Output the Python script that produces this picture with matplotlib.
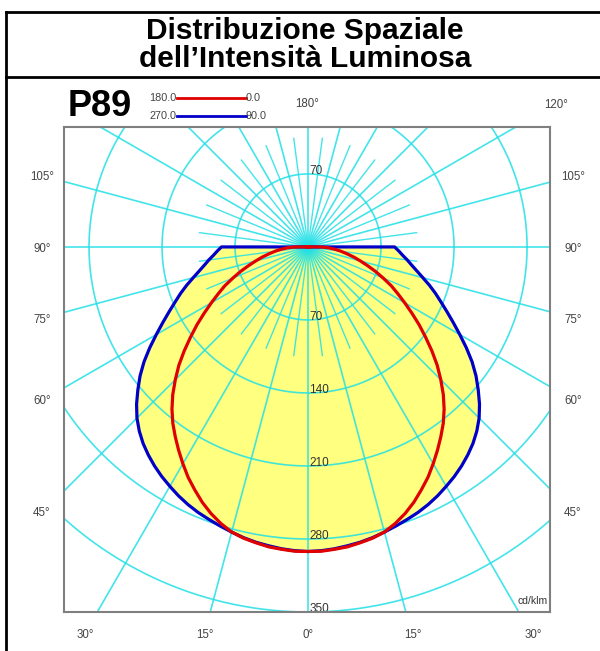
import numpy as np
import matplotlib
matplotlib.use("Agg")
import matplotlib.pyplot as plt
from matplotlib.lines import Line2D

plt.rcParams['font.family'] = ['Liberation Sans', 'DejaVu Sans']

# ---------------- data (cd/klm), gamma in degrees ----------------
gamma_deg = [0, 2.5, 5, 7.5, 10, 12.5, 15, 17.5, 20, 22.5, 25, 27.5, 30, 32.5, 35, 37.5,
             40, 42.5, 45, 47.5, 50, 52.5, 55, 57.5, 60, 62.5, 65, 67.5, 70, 72.5, 75,
             77.5, 80, 82.5, 85, 87.5, 90, 92.5, 180]
c0_180 = [292, 292, 291, 290, 288, 286, 283, 278, 272, 265, 257, 249, 240, 231, 222, 213,
          203, 192, 180, 168, 155, 142, 130, 118, 107, 97, 88, 78, 69, 60, 52,
          45, 38, 32, 26, 20, 13, 0, 0]
c90_270 = [292, 291.5, 290.5, 289, 287.5, 285.5, 283, 280.5, 278, 275.5, 272.5, 269, 265, 261, 256.5, 251.5,
           246, 239.5, 232, 223, 213, 203, 192, 180, 168, 157, 147, 138, 130, 122, 114,
           107, 101, 96, 91, 87, 83, 0, 0]

radial_ticks = [70, 140, 210, 280, 350]
side_labels = ["105°", "90°", "75°", "60°", "45°"]
bottom_labels = ["30°", "15°", "0°", "15°", "30°"]
top_labels = ["180°", "120°"]
legend_pairs = [("180.0", "0.0"), ("270.0", "90.0")]
title = "Distribuzione Spaziale\ndell\u2019Intensità Luminosa"
product = "P89"
unit = "cd/klm"

W, H = 600, 651
fig = plt.figure(figsize=(W / 100, H / 100), dpi=100)


def fx(x):
    return x / W


def fy(y):
    return 1 - y / H


# ---------------- outer table frame ----------------
for (x0, y0, x1, y1) in [(6, 12, 600, 12), (6, 77, 600, 77), (6, 12, 6, 651)]:
    fig.add_artist(Line2D([fx(x0), fx(x1)], [fy(y0), fy(y1)], color='black', lw=2.0))

fig.text(fx(305), fy(45), title, ha='center', va='center', fontsize=21.5,
         fontweight='bold', linespacing=0.98)

# ---------------- polar diagram on a cartesian frame ----------------
L, R, T, B = 64, 550, 127, 612
ax = fig.add_axes([fx(L), fy(B), (R - L) / W, (B - T) / H])
ax.set_xlim(-234, 232)
ax.set_ylim(-350, 115)
ax.set_xticks([])
ax.set_yticks([])
for s in ax.spines.values():
    s.set_color('#7f7f7f')
    s.set_linewidth(1.5)
    s.set_zorder(10)

g = np.radians(gamma_deg)


def closed_curve(vals):
    v = np.asarray(vals, dtype=float)
    xl = -v * np.sin(g)
    yl = -v * np.cos(g)
    xr = v * np.sin(g)
    yr = -v * np.cos(g)
    xs = np.concatenate([xl[::-1], xr])
    ys = np.concatenate([yl[::-1], yr])
    return xs, ys


xr_, yr_ = closed_curve(c0_180)
xb_, yb_ = closed_curve(c90_270)
ax.fill(xb_, yb_, color='#FFFF80', lw=0, zorder=1)
ax.fill(xr_, yr_, color='#FFFF80', lw=0, zorder=1)

grid_col = '#22E0E6'
t = np.linspace(0, 2 * np.pi, 720)
for r in radial_ticks:
    ax.plot(r * np.cos(t), r * np.sin(t), color=grid_col, lw=1.2, alpha=0.85, zorder=2)
for a in np.arange(0, 360, 15):
    ar = np.radians(a)
    ax.plot([0, 600 * np.sin(ar)], [0, -600 * np.cos(ar)], color=grid_col, lw=1.2,
            alpha=0.85, zorder=2)
for a in np.arange(7.5, 360, 15):
    ar = np.radians(a)
    ax.plot([0, 105 * np.sin(ar)], [0, -105 * np.cos(ar)], color=grid_col, lw=1.0,
            alpha=0.85, zorder=2)

ax.plot(xb_, yb_, color='#0000C8', lw=2.3, zorder=4, solid_joinstyle='round')
ax.plot(xr_, yr_, color='#E00000', lw=2.3, zorder=5, solid_joinstyle='round')

for r in radial_ticks:
    ax.text(1, -r - 3, str(r), fontsize=8.5, color='#333333', ha='left', va='bottom', zorder=6)
ax.text(1, radial_ticks[0] - 3, str(radial_ticks[0]), fontsize=8.5, color='#333333',
        ha='left', va='bottom', zorder=6)
ax.text(0.995, 0.012, unit, transform=ax.transAxes, fontsize=7.5, color='#333333',
        ha='right', va='bottom', zorder=6)

# ---------------- angle labels ----------------
side_y = [177, 249, 320, 401, 513]
for lab, yy in zip(side_labels, side_y):
    fig.text(fx(42), fy(yy), lab, fontsize=8.3, color='#444444', ha='center', va='center')
    fig.text(fx(573), fy(yy), lab, fontsize=8.3, color='#444444', ha='center', va='center')
bottom_x = [85, 205, 308, 413, 533]
for lab, xx in zip(bottom_labels, bottom_x):
    fig.text(fx(xx), fy(635), lab, fontsize=8.3, color='#444444', ha='center', va='center')
for lab, (xx, yy) in zip(top_labels, [(307, 104), (556, 105)]):
    fig.text(fx(xx), fy(yy), lab, fontsize=8.3, color='#444444', ha='center', va='center')

# ---------------- legend ----------------
fig.text(fx(68), fy(107), product, fontsize=26, fontweight='bold', ha='left', va='center')
for (l_lab, r_lab), yy, col in zip(legend_pairs, [98, 116], ['#E00000', '#0000C8']):
    fig.text(fx(176), fy(yy), l_lab, fontsize=7.8, color='#444444', ha='right', va='center')
    fig.add_artist(Line2D([fx(177), fx(246)], [fy(yy), fy(yy)], color=col, lw=2.0))
    fig.text(fx(246), fy(yy), r_lab, fontsize=7.8, color='#444444', ha='left', va='center')

fig.savefig('out.png', dpi=100)
